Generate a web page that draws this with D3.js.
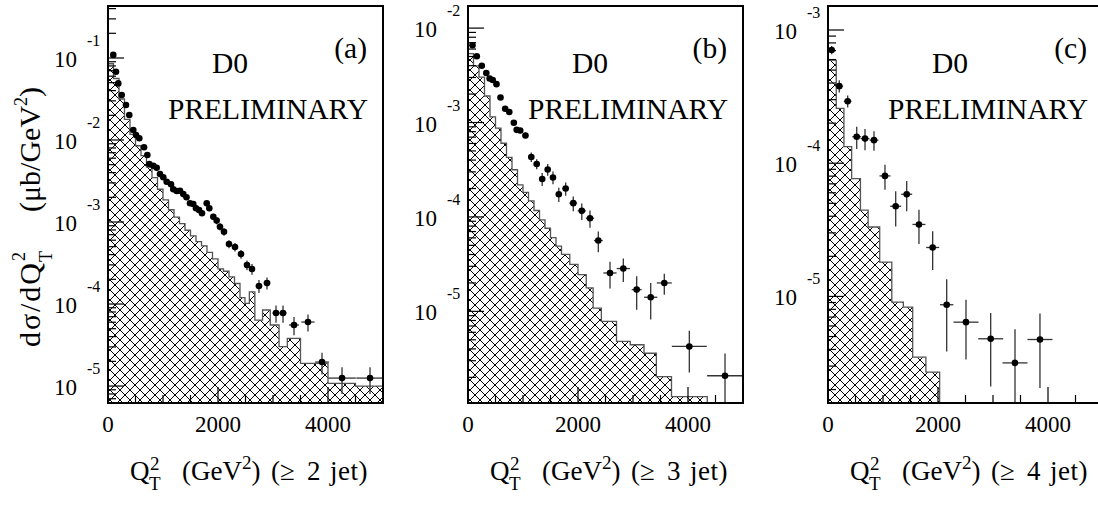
<!DOCTYPE html>
<html>
<head>
<meta charset="utf-8">
<script src="https://cdn.jsdelivr.net/npm/d3@7"></script>
<style>
	body { margin: 0; background: #fff; }
	svg { display: block; }
	svg text { font-family: 'Liberation Serif', 'Times New Roman', 'DejaVu Serif', serif; }
</style>
</head>
<body>
<svg id="chart" width="1098" height="506" font-family="Liberation Serif, Times New Roman, serif"></svg>
<script>
// ---------------------------------------------------------------
// Data (D0 preliminary, dσ/dQT² for >=2,3,4 jets)
// ---------------------------------------------------------------
const panelLabels = ['(a)', '(b)', '(c)']
const jetLabels = ['2', '3', '4']
const xTickValues = [0, 2000, 4000]
const xTickLabels = ['0', '2000', '4000']
const xMinorTicks = [500, 1000, 1500, 2500, 3000, 3500, 4500]
const yDomains = [[6.21e-6, 0.4305], [1.07e-6, 0.01714], [1.585e-6, 1.514e-3]]

// (a) >= 2 jet : data points
const ptsA_x = [96, 145, 187, 249, 327, 387, 460, 509, 569, 655, 715, 751, 824, 885, 945, 1005, 1067, 1145, 1187, 1249,
	1309, 1369, 1427, 1491, 1551, 1600, 1655, 1709, 1795, 1842, 1915, 1976, 2036, 2109, 2200, 2309, 2418, 2527, 2618, 2745,
	2891, 3055, 3182, 3382, 3636, 3891, 4255, 4764]
const ptsA_y = [0.109, 0.068, 0.049, 0.0354, 0.0267, 0.0202, 0.01324, 0.0115, 0.0105, 0.00815, 0.00656, 0.00509, 0.00486,
	0.00459, 0.00385, 0.00351, 0.00310, 0.00288, 0.00251, 0.00239, 0.00241, 0.00219, 0.00200, 0.00169, 0.00166, 0.00147,
	0.00140, 0.00128, 0.00169, 0.00147, 0.00116, 0.00104, 0.000877, 0.000762, 0.000540, 0.000496, 0.000407, 0.000299,
	0.000267, 0.000166, 0.000180, 7.76e-5, 7.76e-5, 5.55e-5, 6.03e-5, 1.96e-5, 1.25e-5, 1.25e-5]
const ptsA_xerr = [25, 25, 25, 30, 30, 30, 30, 30, 30, 30, 30, 30, 30, 30, 30, 30, 30, 30, 30, 30,
	30, 30, 30, 30, 30, 30, 30, 30, 30, 30, 30, 30, 30, 40, 50, 50, 50, 50, 50, 60,
	60, 65, 65, 90, 120, 125, 250, 250]
const ptsA_yerr = [0.004, 0.003, 0.002, 0.0015, 0.0012, 0.0009, 0.0006, 0.0005, 0.0005, 0.0004, 0.0003, 0.00025, 0.00025,
	0.00023, 0.0002, 0.0002, 0.00018, 0.00017, 0.00016, 0.00015, 0.00015, 0.00014, 0.00013, 0.00012, 0.00012, 0.00011,
	0.00011, 0.0001, 0.00013, 0.00012, 0.0001, 0.0001, 0.00009, 0.00008, 0.00006, 0.00006, 0.00005, 0.00004,
	0.00004, 0.00003, 0.00003, 1.85e-5, 1.85e-5, 1.4e-5, 1.4e-5, 0.58e-5, 0.45e-5, 0.45e-5]

// (a) hatched histogram
const histA_edges = [0, 100, 200, 300, 400, 500, 600, 700, 800, 900, 1000, 1100, 1200, 1300, 1400, 1500, 1600, 1700,
	1800, 1900, 2000, 2100, 2200, 2300, 2400, 2490, 2570, 2670, 2810, 2950, 3110, 3260, 3500, 4000, 4500, 5000]
const histA_vals = [0.0851, 0.0562, 0.0316, 0.0178, 0.0117, 0.00851, 0.00646, 0.00468, 0.00347, 0.00251, 0.00186,
	0.00141, 0.00115, 0.000955, 0.000794, 0.000676, 0.000575, 0.000513, 0.000427, 0.000355, 0.000269, 0.000251,
	0.000214, 0.000178, 0.000120, 0.000102, 0.000141, 6.38e-5, 8.45e-5, 5.55e-5, 3.02e-5, 3.82e-5, 1.89e-5,
	1.08e-5, 1.0e-5]

// (b) >= 3 jet
const ptsB_x = [82, 160, 251, 333, 393, 449, 518, 591, 676, 751, 833, 885, 949, 1045, 1151, 1249, 1349, 1449, 1545, 1651,
	1776, 1914, 2069, 2218, 2369, 2582, 2824, 3067, 3322, 3569, 4024, 4673]
const ptsB_y = [6.59e-3, 5.04e-3, 3.99e-3, 3.34e-3, 2.92e-3, 2.82e-3, 2.55e-3, 1.84e-3, 1.40e-3, 1.29e-3, 9.96e-4, 8.36e-4,
	8.22e-4, 7.28e-4, 4.32e-4, 3.64e-4, 2.52e-4, 3.18e-4, 2.62e-4, 1.74e-4, 2.00e-4, 1.40e-4, 1.16e-4, 9.69e-5, 5.62e-5,
	2.55e-5, 2.84e-5, 1.70e-5, 1.41e-5, 2.00e-5, 4.25e-6, 2.08e-6]
const ptsB_xerr = [40, 40, 40, 30, 30, 35, 40, 40, 40, 40, 40, 30, 40, 50, 50, 50, 50, 50, 50, 50,
	60, 70, 75, 75, 80, 120, 120, 90, 120, 136, 318, 325]
const ptsB_yerr = [2e-4, 1.7e-4, 1.4e-4, 1.2e-4, 1.1e-4, 1.1e-4, 1e-4, 8e-5, 7e-5, 7e-5, 6e-5, 5.5e-5, 5.5e-5, 5e-5, 5e-5,
	4.5e-5, 4e-5, 4.5e-5, 4e-5, 3e-5, 3.2e-5, 2.5e-5, 2.3e-5, 2e-5, 1.4e-5, 0.8e-5, 0.8e-5, 0.66e-5, 0.59e-5, 0.5e-5,
	2.0e-6, 1.5e-6]
const histB_edges = [0, 100, 200, 300, 400, 500, 600, 700, 800, 900, 1000, 1100, 1200, 1300, 1400, 1500, 1600, 1700,
	1850, 2000, 2150, 2275, 2425, 2700, 2950, 3200, 3425, 3700, 4350]
const histB_vals = [5.37e-3, 3.98e-3, 3.02e-3, 1.91e-3, 1.15e-3, 8.71e-4, 6.03e-4, 4.27e-4, 3.16e-4, 2.19e-4, 1.82e-4,
	1.48e-4, 1.17e-4, 9.33e-5, 7.59e-5, 6.03e-5, 4.90e-5, 4.01e-5, 3.14e-5, 2.45e-5, 1.77e-5, 1.08e-5, 7.83e-6,
	4.80e-6, 4.43e-6, 3.60e-6, 2.04e-6, 1.25e-6]

// (c) >= 4 jet
const ptsC_x = [67, 205, 358, 522, 673, 836, 1036, 1231, 1431, 1654, 1903, 2158, 2509, 2958, 3400, 3854]
const ptsC_y = [7.08e-4, 3.79e-4, 2.92e-4, 1.58e-4, 1.53e-4, 1.49e-4, 8.03e-5, 4.75e-5, 5.85e-5, 3.47e-5, 2.33e-5,
	8.66e-6, 6.41e-6, 4.81e-6, 3.17e-6, 4.75e-6]
const ptsC_xerr = [60, 70, 70, 80, 80, 80, 100, 100, 100, 118, 118, 122, 227, 227, 227, 227]
const ptsC_yerr = [5e-5, 4e-5, 3e-5, 3e-5, 2.8e-5, 2.5e-5, 1.7e-5, 1.4e-5, 1.5e-5, 1.0e-5, 0.75e-5, 4.8e-6, 3.05e-6,
	2.7e-6, 2.5e-6, 2.7e-6]
const histC_edges = [0, 150, 290, 430, 590, 730, 940, 1160, 1370, 1540, 1780, 2030]
const histC_vals = [5.94e-4, 2.58e-4, 1.33e-4, 7.67e-5, 4.44e-5, 3.32e-5, 1.81e-5, 9.06e-6, 8.32e-6, 3.50e-6, 2.70e-6]

// ---------------------------------------------------------------
// Layout
// ---------------------------------------------------------------
const PW = 275, TOP = 6, BOTTOM = 403
const panelLefts = [108, 468, 828]
const SERIF = "'Liberation Serif', 'Times New Roman', serif"

const panels = [
	{ xs: ptsA_x, ys: ptsA_y, xe: ptsA_xerr, ye: ptsA_yerr, edges: histA_edges, vals: histA_vals },
	{ xs: ptsB_x, ys: ptsB_y, xe: ptsB_xerr, ye: ptsB_yerr, edges: histB_edges, vals: histB_vals },
	{ xs: ptsC_x, ys: ptsC_y, xe: ptsC_xerr, ye: ptsC_yerr, edges: histC_edges, vals: histC_vals }
]

const root = d3.select('#chart').style('font-family', SERIF)
const defs = root.append('defs')

// cross hatch, like ROOT fill style 3144
defs.append('pattern')
	.attr('id', 'hatch')
	.attr('patternUnits', 'userSpaceOnUse')
	.attr('width', 10).attr('height', 10)
	.append('path')
	.attr('d', 'M-1,-1L11,11M11,-1L-1,11')
	.attr('stroke', '#000').attr('stroke-width', 1).attr('fill', 'none')

panels.forEach((p, i) => {
	const L = panelLefts[i]
	const x = d3.scaleLinear().domain([0, 5000]).range([L, L + PW])
	const y = d3.scaleLog().domain(yDomains[i]).range([BOTTOM, TOP])
	const [yLo, yHi] = yDomains[i]

	defs.append('clipPath').attr('id', 'clip' + i)
		.append('rect').attr('x', L).attr('y', TOP).attr('width', PW).attr('height', BOTTOM - TOP)

	const g = root.append('g').style('font-family', SERIF)
	const plot = g.append('g').attr('clip-path', `url(#clip${i})`)

	// histogram as a closed step outline
	const pathPts = [[x(p.edges[0]), BOTTOM]]
	p.vals.forEach((v, k) => {
		pathPts.push([x(p.edges[k]), y(v)])
		pathPts.push([x(p.edges[k + 1]), y(v)])
	})
	pathPts.push([x(p.edges[p.edges.length - 1]), BOTTOM])
	const line = d3.line()
	plot.append('path')
		.attr('d', line(pathPts) + 'Z')
		.attr('fill', 'url(#hatch)')
		.attr('stroke', '#555').attr('stroke-width', 1.3)

	// error bars
	const eb = plot.append('g').attr('stroke', '#333').attr('stroke-width', 1.3)
	p.xs.forEach((xv, k) => {
		const yv = p.ys[k]
		const lo = Math.max(yv - p.ye[k], yLo * 0.5)
		eb.append('line')
			.attr('x1', x(xv)).attr('x2', x(xv))
			.attr('y1', y(lo)).attr('y2', y(yv + p.ye[k]))
		eb.append('line')
			.attr('x1', x(xv - p.xe[k])).attr('x2', x(xv + p.xe[k]))
			.attr('y1', y(yv)).attr('y2', y(yv))
	})

	// markers
	plot.append('g').selectAll('circle')
		.data(p.xs)
		.join('circle')
		.attr('cx', d => x(d))
		.attr('cy', (d, k) => y(p.ys[k]))
		.attr('r', 3.3)
		.attr('fill', '#000')

	// y ticks: decades plus 2..9 minor, pointing inward
	const ticks = g.append('g').attr('stroke', '#000').attr('stroke-width', 1.2)
	const kLo = Math.floor(Math.log10(yLo)), kHi = Math.ceil(Math.log10(yHi))
	for (let k = kLo; k <= kHi; k++) {
		for (let m = 1; m <= 9; m++) {
			const v = m * Math.pow(10, k)
			if (v < yLo || v > yHi) continue
			const len = m === 1 ? 16 : 8
			ticks.append('line')
				.attr('x1', L).attr('x2', L + len)
				.attr('y1', y(v)).attr('y2', y(v))
			if (m === 1) {
				g.append('text')
					.attr('x', L - 31).attr('y', y(v) + 9)
					.attr('text-anchor', 'end')
					.style('font-size', '23px')
					.text('10')
				g.append('text')
					.attr('x', L - 21).attr('y', y(v) - 12)
					.style('font-size', '16px')
					.text(String(k))
			}
		}
	}

	// x ticks
	xTickValues.forEach((v, k) => {
		ticks.append('line')
			.attr('x1', x(v)).attr('x2', x(v))
			.attr('y1', BOTTOM).attr('y2', BOTTOM - 16)
		g.append('text')
			.attr('x', x(v)).attr('y', 432)
			.attr('text-anchor', 'middle')
			.style('font-size', '23px')
			.text(xTickLabels[k])
	})
	xMinorTicks.forEach(v => {
		ticks.append('line')
			.attr('x1', x(v)).attr('x2', x(v))
			.attr('y1', BOTTOM).attr('y2', BOTTOM - 8)
	})

	// frame
	g.append('rect')
		.attr('x', L).attr('y', TOP).attr('width', PW).attr('height', BOTTOM - TOP)
		.attr('fill', 'none').attr('stroke', '#000').attr('stroke-width', 2)

	// panel texts
	g.append('text').attr('x', L + 259).attr('y', 58).attr('text-anchor', 'end')
		.style('font-size', '29.5px').text(panelLabels[i])
	g.append('text').attr('x', L + 122).attr('y', 72.5).attr('text-anchor', 'middle')
		.style('font-size', '29.5px').text('D0')
	g.append('text').attr('x', L + 160).attr('y', 119).attr('text-anchor', 'middle')
		.style('font-size', '29.5px').text('PRELIMINARY')

	// x title: Q_T^2 (GeV^2) (>= n jet)
	const xt = g.append('g').style('font-size', '27px')
	const base = 480
	xt.append('text').attr('x', L + 22).attr('y', base).text('Q')
	xt.append('text').attr('x', L + 41).attr('y', base + 10).style('font-size', '19px').text('T')
	xt.append('text').attr('x', L + 42).attr('y', base - 10).style('font-size', '19px').text('2')
	const gev = xt.append('text').attr('x', L + 74).attr('y', base)
	gev.append('tspan').text('(GeV')
	gev.append('tspan').attr('dy', -11).style('font-size', '19px').text('2')
	gev.append('tspan').attr('dy', 11).text(')')
	xt.append('text').attr('x', L + 163).attr('y', base).text('(\u2265')
	xt.append('text').attr('x', L + 199).attr('y', base).text(jetLabels[i])
	xt.append('text').attr('x', L + 222).attr('y', base)
		.style('letter-spacing', '0.5px').text('jet)')
})

// y title on panel (a): dσ/dQ_T^2 (μb/GeV^2)
const yt = root.append('g')
	.attr('transform', 'translate(40,347) rotate(-90)')
	.style('font-family', SERIF)
	.style('font-size', '30px')
yt.append('text').attr('x', 0).attr('y', 0)
	.attr('textLength', 84).attr('lengthAdjust', 'spacing').text('d\u03c3/dQ')
yt.append('text').attr('x', 85).attr('y', 12).style('font-size', '18px').text('T')
yt.append('text').attr('x', 86).attr('y', -15).style('font-size', '18px').text('2')
const unit = yt.append('text').attr('x', 135).attr('y', 0)
unit.append('tspan').text('(\u03bcb/GeV')
unit.append('tspan').attr('dy', -13).style('font-size', '18px').text('2')
unit.append('tspan').attr('dy', 13).text(')')
</script>
</body>
</html>
